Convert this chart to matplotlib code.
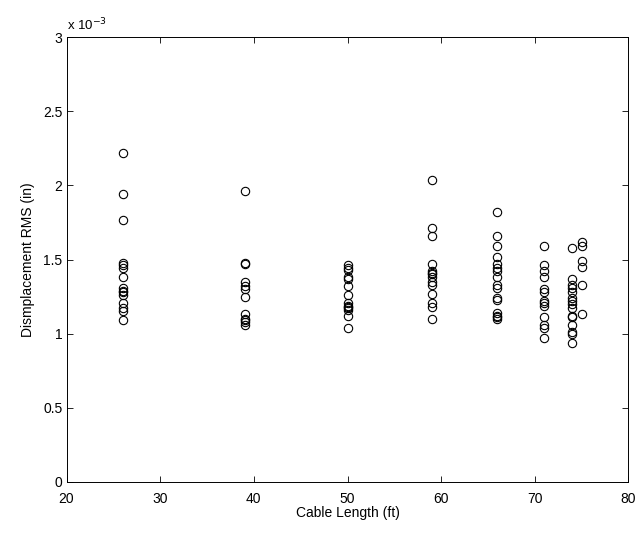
import matplotlib
matplotlib.use("Agg")
import matplotlib.pyplot as plt

# Displacement RMS values are in units of 1e-3 in
len_26 = [2.22, 1.94, 1.77, 1.48, 1.46, 1.44, 1.38, 1.31, 1.29, 1.28, 1.26, 1.21, 1.17, 1.15, 1.09]
len_39 = [1.96, 1.48, 1.47, 1.35, 1.32, 1.30, 1.25, 1.13, 1.10, 1.09, 1.08, 1.06]
len_50 = [1.46, 1.44, 1.43, 1.38, 1.37, 1.32, 1.26, 1.21, 1.19, 1.18, 1.17, 1.16, 1.12, 1.04]
len_59 = [2.04, 1.71, 1.66, 1.47, 1.42, 1.41, 1.40, 1.38, 1.35, 1.33, 1.27, 1.21, 1.18, 1.10]
len_66 = [1.82, 1.66, 1.59, 1.52, 1.47, 1.44, 1.42, 1.38, 1.33, 1.31, 1.24, 1.23, 1.14, 1.12, 1.11, 1.10]
len_71 = [1.59, 1.46, 1.42, 1.38, 1.30, 1.28, 1.22, 1.21, 1.19, 1.11, 1.06, 1.04, 0.97]
len_74 = [1.58, 1.37, 1.33, 1.31, 1.28, 1.24, 1.22, 1.20, 1.17, 1.12, 1.11, 1.06, 1.01, 1.00, 0.94]
len_75 = [1.62, 1.59, 1.49, 1.45, 1.33, 1.13]

cable_lengths = [26, 39, 50, 59, 66, 71, 74, 75]
rms_groups = [len_26, len_39, len_50, len_59, len_66, len_71, len_74, len_75]

plt.rcParams['font.family'] = ['Liberation Sans', 'DejaVu Sans']
plt.rcParams['font.size'] = 10

fig = plt.figure(figsize=(6.4, 5.33), dpi=100)
ax = fig.add_axes([0.104, 0.096, 0.878, 0.834])

for length, vals in zip(cable_lengths, rms_groups):
    ax.plot([length] * len(vals), vals, linestyle='none', marker='o',
            markersize=6, markerfacecolor='none', markeredgecolor='black',
            markeredgewidth=0.8)

ax.set_xlim(20, 80)
ax.set_ylim(0, 3)
ax.set_xticks([20, 30, 40, 50, 60, 70, 80])
ax.set_yticks([0, 0.5, 1, 1.5, 2, 2.5, 3])
ax.set_yticklabels(['0', '0.5', '1', '1.5', '2', '2.5', '3'])
ax.tick_params(direction='in', top=True, right=True, length=4, width=0.6)
ax.tick_params(axis='x', pad=7)
ax.tick_params(axis='y', pad=3)
for s in ax.spines.values():
    s.set_linewidth(0.7)

ax.set_xlabel('Cable Length (ft)', labelpad=0)
ax.set_ylabel('Dismplacement RMS (in)', labelpad=6)
ax.text(0.0, 1.008, r'x 10$^{-3}$', transform=ax.transAxes, ha='left', va='bottom',
        fontsize=9.5)

fig.savefig('out.png', dpi=100, facecolor='white')
